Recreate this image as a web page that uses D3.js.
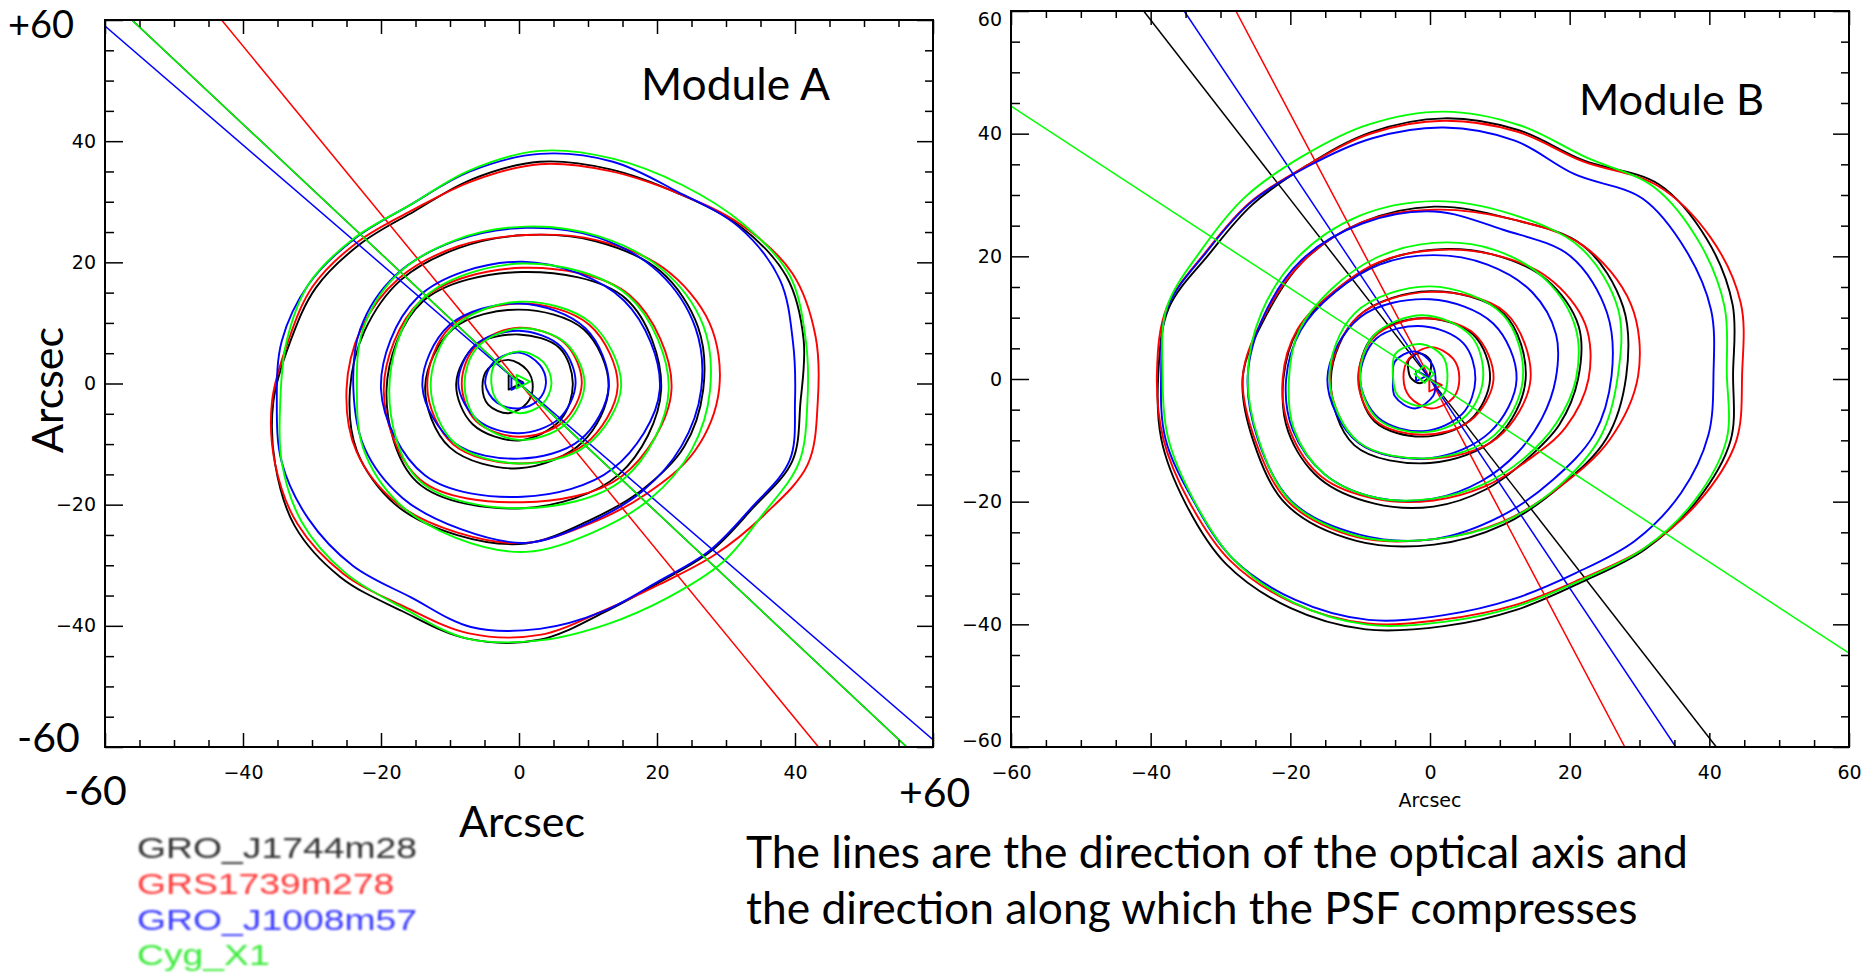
<!DOCTYPE html>
<html>
<head>
<meta charset="utf-8">
<script src="https://cdn.jsdelivr.net/npm/d3@7"></script>
<style>
  body { margin: 0; background: #fff; }
</style>
</head>
<body>
<script>

// Sources, in legend order.
var sourceNames = ["GRO_J1744m28", "GRS1739m278", "GRO_J1008m57", "Cyg_X1"];
var sourceColors = ["#000000", "#ff0000", "#0000ff", "#00ff00"];
var legendColors = ["#303030", "#ff3a3a", "#3a3aff", "#3aea3a"];

// Tick values (arcsec).
var majorTicks = [-60, -40, -20, 0, 20, 40, 60];
var minorTicks = [-55, -50, -45, -35, -30, -25, -15, -10, -5, 5, 10, 15, 25, 30, 35, 45, 50, 55];

// Contours: centre [x, y] in arcsec and radii at equal angle steps, from east, counter-clockwise.
var moduleA_GRO_J1744m28 = [
  {c: [3, -3], r: [37.8, 39.6, 41.3, 41.0, 39.8, 39.7, 39.6, 38.0, 36.3, 36.8, 37.5, 37.5, 38.6, 39.7, 41.0, 40.9, 39.9, 40.5, 39.3, 36.0, 34.5, 35.0, 35.5, 37.9]},
  {c: [1, -1], r: [25.7, 27.0, 27.6, 26.5, 25.5, 25.3, 25.6, 25.3, 25.5, 26.5, 26.8, 26.0, 25.4, 23.5, 23.6, 24.8]},
  {c: [0.5, -1], r: [20.1, 21.2, 19.4, 20.5, 19.7, 21.6, 19.6, 19.8]},
  {c: [0, -0.5], r: [13.0, 13.3, 12.7, 13.5, 13.6, 14.2, 13.5, 13.0]},
  {c: [0, 0], r: [7.8, 8.3, 8.1, 8.9, 9.1, 9.5, 9.4, 8.5]},
  {c: [-1.5, -0.5], r: [3.5, 3.8, 4.4, 4.2, 3.8, 4.2, 4.4, 3.8]},
  {c: [-0.8, 0.2], r: [1.4, 1.4, 1.4]}
];
var moduleA_GRS1739m278 = [
  {c: [3, -3], r: [40.3, 41.4, 42.3, 41.3, 39.8, 39.4, 39.2, 37.7, 36.6, 37.3, 38.0, 37.8, 38.8, 39.7, 40.5, 40.2, 39.1, 39.6, 38.5, 35.7, 34.8, 35.8, 37.5, 40.2]},
  {c: [1, -1], r: [28.0, 28.8, 28.3, 26.7, 25.5, 25.6, 26.0, 25.9, 26.0, 26.6, 26.5, 25.6, 25.3, 24.0, 24.5, 26.5]},
  {c: [0.5, -1], r: [21.6, 22.0, 20.1, 20.8, 20.1, 21.0, 18.6, 20.3]},
  {c: [0, -0.5], r: [14.3, 14.4, 13.7, 14.0, 13.3, 13.5, 12.7, 13.5]},
  {c: [0, 0], r: [9.1, 9.4, 9.2, 8.8, 8.3, 8.8, 8.8, 9.0]}
];
var moduleA_GRO_J1008m57 = [
  {c: [3, -3], r: [37.0, 38.0, 40.2, 40.8, 40.0, 41.0, 40.9, 39.3, 37.5, 38.0, 38.7, 38.7, 38.1, 38.7, 38.7, 38.3, 37.3, 38.5, 37.5, 35.8, 34.3, 34.8, 35.3, 37.5]},
  {c: [1, -1], r: [25.4, 26.6, 27.3, 27.2, 26.7, 26.6, 26.7, 26.0, 25.0, 25.3, 25.3, 24.9, 25.3, 23.8, 23.8, 24.4]},
  {c: [0.5, -1], r: [19.9, 20.8, 21.1, 21.5, 20.5, 20.0, 17.7, 18.5]},
  {c: [0, -0.5], r: [13.0, 13.6, 13.7, 14.3, 14.0, 13.2, 11.9, 12.5]},
  {c: [0, 0], r: [8.2, 8.6, 8.7, 9.0, 8.8, 8.5, 8.2, 8.2]},
  {c: [0, 0], r: [3.9, 4.3, 5.1, 5.1, 4.9, 4.5, 4.1, 3.9]},
  {c: [-0.5, 0], r: [1.2, 1.2, 1.2]}
];
var moduleA_Cyg_X1 = [
  {c: [3, -3], r: [38.8, 39.9, 41.8, 41.6, 41.3, 41.5, 41.4, 39.5, 37.5, 38.1, 38.7, 38.0, 37.6, 38.7, 39.8, 39.9, 39.4, 40.5, 39.4, 38.0, 37.3, 37.5, 37.3, 38.9]},
  {c: [1, -1], r: [26.7, 27.8, 28.0, 27.4, 26.9, 26.7, 26.6, 25.6, 24.5, 25.5, 26.3, 26.5, 26.8, 25.5, 25.5, 26.0]},
  {c: [0.5, -1], r: [21.2, 21.8, 20.8, 20.8, 19.3, 21.2, 19.6, 20.8]},
  {c: [0, -0.5], r: [14.8, 14.8, 14.0, 13.6, 12.8, 13.2, 12.7, 13.8]},
  {c: [0, 0], r: [9.5, 9.5, 9.1, 8.5, 7.9, 8.6, 9.3, 9.5]},
  {c: [0, 0], r: [4.7, 5.0, 5.3, 4.8, 4.0, 4.3, 4.9, 4.8]},
  {c: [0.3, 0.3], r: [1.3, 1.3, 1.3]}
];

var moduleB_GRO_J1744m28 = [
  {c: [2, 1], r: [41.4, 42.8, 43.5, 43.5, 40.0, 41.0, 41.5, 40.6, 39.1, 38.8, 38.8, 40.8, 40.9, 41.9, 42.7, 44.1, 44.2, 43.3, 41.3, 40.0, 39.4, 40.7, 41.8, 42.5]},
  {c: [0.6, 0.5], r: [27.5, 29.3, 30.1, 27.8, 27.6, 27.1, 26.5, 26.0, 27.4, 28.0, 29.8, 29.1, 27.5, 26.2, 25.5, 26.7]},
  {c: [0.5, 0], r: [20.7, 22.5, 22.9, 22.0, 21.1, 20.5, 20.0, 21.0, 21.5, 22.5, 23.0, 22.0, 20.8, 19.5, 18.7, 19.5]},
  {c: [0, 0], r: [13.7, 15.0, 14.3, 14.5, 14.2, 15.3, 13.7, 13.5]},
  {c: [-1, 0], r: [9.6, 10.2, 9.9, 10.0, 9.2, 9.8, 9.4, 9.5]},
  {c: [-1.5, 1.5], r: [1.6, 2.2, 2.7, 2.2, 1.6, 1.8, 2.2, 1.8]}
];
var moduleB_GRS1739m278 = [
  {c: [2, 1], r: [42.7, 44.0, 44.1, 43.2, 39.8, 40.7, 41.1, 40.4, 39.1, 39.3, 39.4, 41.1, 41.1, 41.6, 42.1, 43.3, 43.3, 42.3, 40.2, 39.2, 38.9, 40.5, 42.1, 43.3]},
  {c: [0.6, 0.5], r: [29.2, 30.5, 30.1, 27.8, 27.1, 27.1, 26.5, 26.2, 27.4, 27.7, 29.3, 28.5, 26.6, 25.7, 25.5, 27.2]},
  {c: [0.5, 0], r: [22.2, 23.5, 23.3, 22.0, 21.0, 20.6, 20.2, 21.1, 21.6, 22.2, 22.6, 21.2, 19.8, 19.0, 18.9, 20.5]},
  {c: [0, 0], r: [14.4, 15.3, 14.2, 14.5, 14.3, 14.6, 13.0, 13.6]},
  {c: [-1, 0], r: [10.1, 10.4, 9.9, 9.8, 9.3, 9.6, 9.1, 9.6]},
  {c: [0.2, 0.2], r: [4.0, 4.4, 5.0, 4.5, 4.0, 4.4, 5.0, 4.5]},
  {c: [0.5, -1], r: [1.2, 1.2, 1.2]}
];
var moduleB_GRO_J1008m57 = [
  {c: [2, 1], r: [38.6, 39.6, 40.0, 40.2, 37.4, 39.2, 40.0, 39.6, 38.9, 39.2, 39.3, 41.0, 40.5, 41.3, 41.5, 42.8, 42.7, 41.7, 39.5, 38.2, 37.7, 38.7, 39.2, 39.2]},
  {c: [0.6, 0.5], r: [25.4, 26.8, 27.6, 25.8, 26.8, 26.9, 26.8, 26.3, 26.7, 27.3, 28.9, 28.0, 26.6, 24.8, 24.0, 24.8]},
  {c: [0.5, 0], r: [17.5, 19.0, 20.0, 20.2, 20.2, 20.2, 20.0, 20.6, 21.1, 21.8, 22.0, 21.0, 19.5, 18.0, 17.0, 16.8]},
  {c: [0, 0], r: [12.4, 12.8, 13.0, 14.2, 14.7, 14.6, 12.9, 12.2]},
  {c: [-1, 0], r: [7.5, 8.2, 8.6, 9.4, 9.0, 9.0, 8.5, 8.0]},
  {c: [-2.2, 0], r: [3.0, 3.5, 4.5, 4.0, 3.1, 4.0, 4.8, 3.8]},
  {c: [-1.5, 0.5], r: [1.0, 1.0, 1.0]}
];
var moduleB_Cyg_X1 = [
  {c: [2, 1], r: [40.5, 41.6, 42.3, 42.7, 40.6, 41.8, 42.6, 41.9, 40.7, 40.4, 40.1, 41.1, 40.3, 40.9, 41.4, 42.8, 43.2, 42.5, 40.6, 39.5, 39.1, 40.5, 41.5, 41.9]},
  {c: [0.6, 0.5], r: [26.3, 28.5, 29.6, 28.6, 28.5, 28.2, 27.5, 26.8, 26.7, 27.2, 29.0, 28.3, 26.6, 25.8, 25.3, 25.8]},
  {c: [0.5, 0], r: [20.4, 22.0, 22.8, 22.8, 22.2, 21.4, 20.7, 20.8, 20.7, 21.6, 22.0, 21.0, 19.5, 18.6, 18.3, 19.0]},
  {c: [0, 0], r: [13.3, 14.8, 15.1, 15.2, 14.4, 14.5, 12.9, 13.0]},
  {c: [-1, 0], r: [8.6, 9.8, 10.4, 10.0, 9.0, 9.2, 8.7, 8.6]},
  {c: [-1.4, 0.6], r: [3.9, 4.5, 5.1, 5.0, 3.9, 4.6, 5.0, 4.6]},
  {c: [-0.8, 0.8], r: [1.4, 1.4, 1.4, 1.4]}
];

// Optical axis lines, [x1, y1, x2, y2] in arcsec, one per source.
var axisLinesA = [[-56.1, 60, 56.2, -60], [-43.1, 60, 43.4, -60], [-60, 59.0, 60, -58.8], [-56.1, 60, 56.2, -60]];
var axisLinesB = [[-41.0, 60, 41.0, -60], [-27.8, 60, 27.9, -60], [-35.2, 60, 35.2, -60], [-60, 44.5, 60, -44.7]];

var captionLines = ["The lines are the direction of the optical axis and",
                    "the direction along which the PSF compresses"];


var svg = d3.select("body").append("svg")
    .attr("width", 1868)
    .attr("height", 978);

function ringPoints(ct) {
  var n = ct.r.length;
  return ct.r.map(function(r, i) {
    var a = 2 * Math.PI * i / n;
    return [ct.c[0] + r * Math.cos(a), ct.c[1] + r * Math.sin(a)];
  });
}

function signed(d) {
  return d < 0 ? "\u2212" + Math.abs(d) : String(d);
}

// scale a text's font size so it spans the wanted width
function fitWidth(t, w) {
  var fs = parseFloat(t.attr("font-size"));
  t.attr("font-size", fs * w / t.node().getComputedTextLength());
  return t;
}

function styleTicks(g) {
  g.select(".domain").remove();
  g.selectAll(".tick line").attr("stroke", "#000").attr("stroke-width", 1.5);
  g.attr("font-family", "'DejaVu Sans', sans-serif").attr("font-size", 19);
  g.selectAll(".tick text").attr("fill", "#000");
}

function drawPanel(id, box, sets, lines, labelEdges) {
  var x = d3.scaleLinear().domain([-60, 60]).range([box.left, box.right]);
  var y = d3.scaleLinear().domain([-60, 60]).range([box.bottom, box.top]);

  svg.append("clipPath").attr("id", id)
    .append("rect")
      .attr("x", box.left).attr("y", box.top)
      .attr("width", box.right - box.left)
      .attr("height", box.bottom - box.top);

  var plot = svg.append("g").attr("clip-path", "url(#" + id + ")");
  var path = d3.line().x(function(d) { return x(d[0]); }).y(function(d) { return y(d[1]); });

  // contours then the axis line, one source at a time
  sets.forEach(function(rings, s) {
    rings.forEach(function(ct) {
      path.curve(ct.r.length > 4 ? d3.curveCatmullRomClosed.alpha(0.5) : d3.curveLinearClosed);
      plot.append("path")
        .attr("d", path(ringPoints(ct)))
        .attr("fill", "none")
        .attr("stroke", sourceColors[s])
        .attr("stroke-width", 1.9)
        .attr("stroke-linejoin", "round");
    });
    var a = lines[s];
    plot.append("line")
      .attr("x1", x(a[0])).attr("y1", y(a[1]))
      .attr("x2", x(a[2])).attr("y2", y(a[3]))
      .attr("stroke", sourceColors[s])
      .attr("stroke-width", 1.5);
  });

  var fmt = function(d) { return (!labelEdges && Math.abs(d) === 60) ? "" : signed(d); };

  // major + minor ticks on all four sides, pointing inward
  var left = svg.append("g").attr("transform", "translate(" + box.left + ",0)")
      .call(d3.axisLeft(y).tickValues(majorTicks).tickSize(-18).tickPadding(9).tickFormat(fmt));
  svg.append("g").attr("transform", "translate(" + box.left + ",0)")
      .call(d3.axisLeft(y).tickValues(minorTicks).tickSize(-9).tickFormat("")).call(styleTicks);
  svg.append("g").attr("transform", "translate(" + box.right + ",0)")
      .call(d3.axisRight(y).tickValues(majorTicks).tickSize(-16).tickFormat("")).call(styleTicks);
  svg.append("g").attr("transform", "translate(" + box.right + ",0)")
      .call(d3.axisRight(y).tickValues(minorTicks).tickSize(-8).tickFormat("")).call(styleTicks);
  svg.append("g").attr("transform", "translate(0," + box.top + ")")
      .call(d3.axisTop(x).tickValues(majorTicks).tickSize(-14).tickFormat("")).call(styleTicks);
  svg.append("g").attr("transform", "translate(0," + box.top + ")")
      .call(d3.axisTop(x).tickValues(minorTicks).tickSize(-7).tickFormat("")).call(styleTicks);
  svg.append("g").attr("transform", "translate(0," + box.bottom + ")")
      .call(d3.axisBottom(x).tickValues(majorTicks).tickSize(-14).tickPadding(19).tickFormat(fmt))
      .call(styleTicks);
  svg.append("g").attr("transform", "translate(0," + box.bottom + ")")
      .call(d3.axisBottom(x).tickValues(minorTicks).tickSize(-7).tickFormat("")).call(styleTicks);
  left.call(styleTicks);

  if (labelEdges) {
    // the end labels sit a little inside the frame
    left.selectAll(".tick text")
      .attr("transform", function(d) { return d === 60 ? "translate(0,8)" : d === -60 ? "translate(0,-7)" : null; });
  }

  svg.append("rect")
    .attr("x", box.left).attr("y", box.top)
    .attr("width", box.right - box.left)
    .attr("height", box.bottom - box.top)
    .attr("fill", "none")
    .attr("stroke", "#000")
    .attr("stroke-width", 2);

  return x;
}

var boxA = {left: 105, right: 933, top: 20, bottom: 747};
var boxB = {left: 1011, right: 1849, top: 11, bottom: 747};

drawPanel("clipA", boxA,
  [moduleA_GRO_J1744m28, moduleA_GRS1739m278, moduleA_GRO_J1008m57, moduleA_Cyg_X1], axisLinesA, false);
var xB = drawPanel("clipB", boxB,
  [moduleB_GRO_J1744m28, moduleB_GRS1739m278, moduleB_GRO_J1008m57, moduleB_Cyg_X1], axisLinesB, true);

// Panel titles and the large labels.
var big = "Lato, 'Open Sans', sans-serif";

fitWidth(svg.append("text").attr("x", 641).attr("y", 100)
  .attr("font-family", big).attr("font-size", 42).text("Module A"), 189);
fitWidth(svg.append("text").attr("x", 1579).attr("y", 115)
  .attr("font-family", big).attr("font-size", 42).text("Module B"), 185);

svg.append("text").attr("x", 8).attr("y", 38)
  .attr("font-family", big).attr("font-size", 38).text("+60");
svg.append("text").attr("x", 17).attr("y", 752)
  .attr("font-family", big).attr("font-size", 41).text("-60");
svg.append("text").attr("x", 64).attr("y", 805)
  .attr("font-family", big).attr("font-size", 41).text("-60");
svg.append("text").attr("x", 899).attr("y", 807)
  .attr("font-family", big).attr("font-size", 41).text("+60");

fitWidth(svg.append("text").attr("x", 522).attr("y", 837)
  .attr("text-anchor", "middle")
  .attr("font-family", big).attr("font-size", 40).text("Arcsec"), 126);

fitWidth(svg.append("text")
  .attr("transform", "translate(63,390) rotate(-90)")
  .attr("text-anchor", "middle")
  .attr("font-family", big).attr("font-size", 40).text("Arcsec"), 126);

svg.append("text").attr("x", xB(0)).attr("y", 807)
  .attr("text-anchor", "middle")
  .attr("font-family", "'DejaVu Sans', sans-serif").attr("font-size", 19).text("Arcsec");

// Caption.
var cap1 = fitWidth(svg.append("text").attr("x", 746).attr("y", 868)
  .attr("font-family", big).attr("font-size", 40).text(captionLines[0]), 942);
svg.append("text").attr("x", 746).attr("y", 924)
  .attr("font-family", big).attr("font-size", cap1.attr("font-size")).text(captionLines[1]);

// Legend (soft, like a pasted bitmap), glyphs stretched sideways.
var blur = svg.append("defs").append("filter").attr("id", "soft");
blur.append("feGaussianBlur").attr("stdDeviation", 0.9);

var legend = svg.append("g").attr("filter", "url(#soft)")
  .attr("font-family", "'Liberation Sans', Arial, sans-serif")
  .attr("font-size", 29);

var legendText = legend.selectAll("text")
  .data(sourceNames)
  .join("text")
    .attr("x", 137)
    .attr("y", function(d, i) { return 858 + i * 35.8; })
    .attr("fill", function(d, i) { return legendColors[i]; })
    .text(function(d) { return d; });

var stretch = 280 / legendText.node().getComputedTextLength();
legendText.each(function() {
  d3.select(this)
    .attr("lengthAdjust", "spacingAndGlyphs")
    .attr("textLength", this.getComputedTextLength() * stretch);
});

</script>
</body>
</html>
